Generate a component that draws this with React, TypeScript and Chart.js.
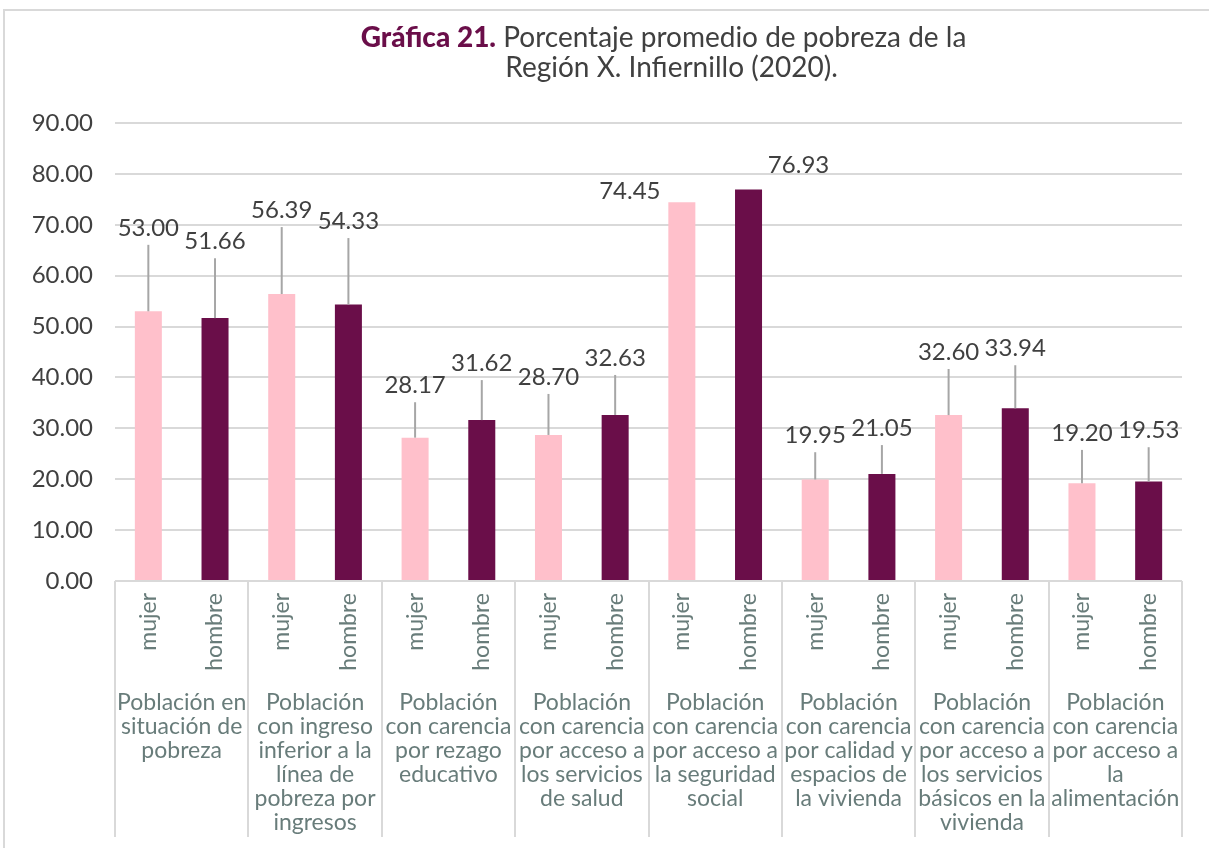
import React, { useEffect, useRef } from "react";
import { Chart, registerables } from "chart.js";

Chart.register(...registerables);

// ---- data ----
const groupLabels: string[][] = [
  ["Población en", "situación de", "pobreza"],
  ["Población", "con ingreso", "inferior a la", "línea de", "pobreza por", "ingresos"],
  ["Población", "con carencia", "por rezago", "educativo"],
  ["Población", "con carencia", "por acceso a", "los servicios", "de salud"],
  ["Población", "con carencia", "por acceso a", "la seguridad", "social"],
  ["Población", "con carencia", "por calidad y", "espacios de", "la vivienda"],
  ["Población", "con carencia", "por acceso a", "los servicios", "básicos en la", "vivienda"],
  ["Población", "con carencia", "por acceso a", "la", "alimentación"],
];
const sexLabels = ["mujer", "hombre"];
const mujer = [53.0, 56.39, 28.17, 28.7, 74.45, 19.95, 32.6, 19.2];
const hombre = [51.66, 54.33, 31.62, 32.63, 76.93, 21.05, 33.94, 19.53];
const yMin = 0;
const yMax = 90;
const yStep = 10;
const titleBold = "Gráfica 21.";
const titleLine1 = " Porcentaje promedio de pobreza de la";
const titleLine2 = "Región X. Infiernillo (2020).";

// label placement (value units above the bar, sideways shift in categories)
const mujerLabelLift = [16.4, 16.5, 10.3, 11.4, 2.2, 8.7, 12.4, 9.9];
const hombreLabelLift = [15.1, 16.4, 11.2, 11.2, 4.8, 9.0, 11.8, 10.1];
const mujerLabelShift = [0, 0, 0, 0, -0.78, 0, 0, 0];
const hombreLabelShift = [0, 0, 0, 0, 0.75, 0, 0, 0];

// ---- styles ----
const PINK = "#FFC0CB";
const PURPLE = "#6A0E49";
const TEXT = "#404040";
const AXIS_TEXT = "#687C7A";
const GRID = "#D9D9D9";
const LEADER = "#A6A6A6";
const FONT = "Lato, 'Noto Sans', sans-serif";

const categories: string[] = [];
const values: number[] = [];
const colors: string[] = [];
const lifts: number[] = [];
const shifts: number[] = [];
groupLabels.forEach((g, i) => {
  categories.push(g.join(" ") + " - " + sexLabels[0]);
  values.push(mujer[i]);
  colors.push(PINK);
  lifts.push(mujerLabelLift[i]);
  shifts.push(mujerLabelShift[i]);
  categories.push(g.join(" ") + " - " + sexLabels[1]);
  values.push(hombre[i]);
  colors.push(PURPLE);
  lifts.push(hombreLabelLift[i]);
  shifts.push(hombreLabelShift[i]);
});

const decorPlugin = {
  id: "decor",
  afterDatasetsDraw(chart: any) {
    const { ctx, scales } = chart;
    const x = scales.x;
    const y = scales.y;
    ctx.save();
    ctx.font = `24px ${FONT}`;
    ctx.fillStyle = TEXT;
    ctx.textAlign = "center";
    ctx.textBaseline = "middle";
    values.forEach((v, i) => {
      const lx = x.getPixelForValue(i + shifts[i]);
      const ly = y.getPixelForValue(v + lifts[i]);
      const barTop = y.getPixelForValue(v);
      if (shifts[i] === 0 && barTop - (ly + 17) > 2) {
        ctx.strokeStyle = LEADER;
        ctx.lineWidth = 2;
        ctx.beginPath();
        ctx.moveTo(x.getPixelForValue(i), barTop);
        ctx.lineTo(x.getPixelForValue(i), ly + 17);
        ctx.stroke();
      }
      ctx.fillText(v.toFixed(2), lx, ly);
    });
    ctx.restore();
  },
  afterDraw(chart: any) {
    const { ctx, scales, chartArea } = chart;
    const x = scales.x;
    ctx.save();
    // separators
    const groupW = (chartArea.right - chartArea.left) / groupLabels.length;
    ctx.strokeStyle = GRID;
    ctx.lineWidth = 2;
    for (let g = 0; g <= groupLabels.length; g++) {
      const sx = Math.round(chartArea.left + g * groupW);
      ctx.beginPath();
      ctx.moveTo(sx, chartArea.bottom);
      ctx.lineTo(sx, chartArea.bottom + 256);
      ctx.stroke();
    }
    // rotated sex labels
    ctx.fillStyle = AXIS_TEXT;
    ctx.font = `23px ${FONT}`;
    ctx.textAlign = "right";
    ctx.textBaseline = "middle";
    categories.forEach((_, i) => {
      const px = x.getPixelForValue(i);
      ctx.save();
      ctx.translate(px, chartArea.bottom + 12);
      ctx.rotate(-Math.PI / 2);
      ctx.fillText(sexLabels[i % 2], 0, 0);
      ctx.restore();
    });
    // group labels
    ctx.font = `23px ${FONT}`;
    ctx.textAlign = "center";
    groupLabels.forEach((lines, g) => {
      const cx = (x.getPixelForValue(2 * g) + x.getPixelForValue(2 * g + 1)) / 2;
      lines.forEach((ln, k) => {
        ctx.fillText(ln, cx, chartArea.bottom + 122 + k * 24);
      });
    });
    // title
    const tcx = (chartArea.left + chartArea.right) / 2 + 15;
    ctx.textBaseline = "middle";
    ctx.textAlign = "left";
    const boldFont = `900 28px ${FONT}`;
    const regFont = `28px ${FONT}`;
    ctx.font = boldFont;
    const wb = ctx.measureText(titleBold).width;
    ctx.font = regFont;
    const wr = ctx.measureText(titleLine1).width;
    const sx = tcx - (wb + wr) / 2;
    ctx.font = boldFont;
    ctx.fillStyle = PURPLE;
    ctx.fillText(titleBold, sx, 27);
    ctx.font = regFont;
    ctx.fillStyle = TEXT;
    ctx.fillText(titleLine1, sx + wb, 27);
    ctx.textAlign = "center";
    ctx.fillText(titleLine2, tcx + 8, 57);
    ctx.restore();
  },
};

export default function App() {
  const ref = useRef<HTMLCanvasElement | null>(null);
  useEffect(() => {
    if (!ref.current) return;
    const chart = new Chart(ref.current, {
      type: "bar",
      data: {
        labels: categories,
        datasets: [
          {
            data: values,
            backgroundColor: colors,
            borderWidth: 0,
            barPercentage: 0.405,
            categoryPercentage: 1,
          },
        ],
      },
      options: {
        responsive: true,
        maintainAspectRatio: false,
        animation: false,
        layout: { padding: { left: 0, right: 27, top: 112, bottom: 267 } },
        plugins: {
          legend: { display: false },
          title: { display: false },
          tooltip: { enabled: false },
        },
        scales: {
          x: { display: false },
          y: {
            min: yMin,
            max: yMax,
            ticks: {
              stepSize: yStep,
              padding: 22,
              color: TEXT,
              font: { family: FONT, size: 24 },
              callback: (v: any) => Number(v).toFixed(2),
            },
            grid: { color: GRID, lineWidth: 2, drawTicks: false },
            border: { display: false },
            afterFit: (s: any) => {
              s.width = 110;
            },
          },
        },
      },
      plugins: [decorPlugin],
    });
    return () => chart.destroy();
  }, []);
  return (
    <div
      style={{
        position: "fixed",
        left: 3,
        top: 9,
        width: 1204,
        height: 837,
        borderTop: `2px solid ${GRID}`,
        borderLeft: `2px solid ${GRID}`,
        background: "#fff",
      }}
    >
      <div style={{ position: "relative", width: 1204, height: 837 }}>
        <canvas ref={ref} />
      </div>
    </div>
  );
}
